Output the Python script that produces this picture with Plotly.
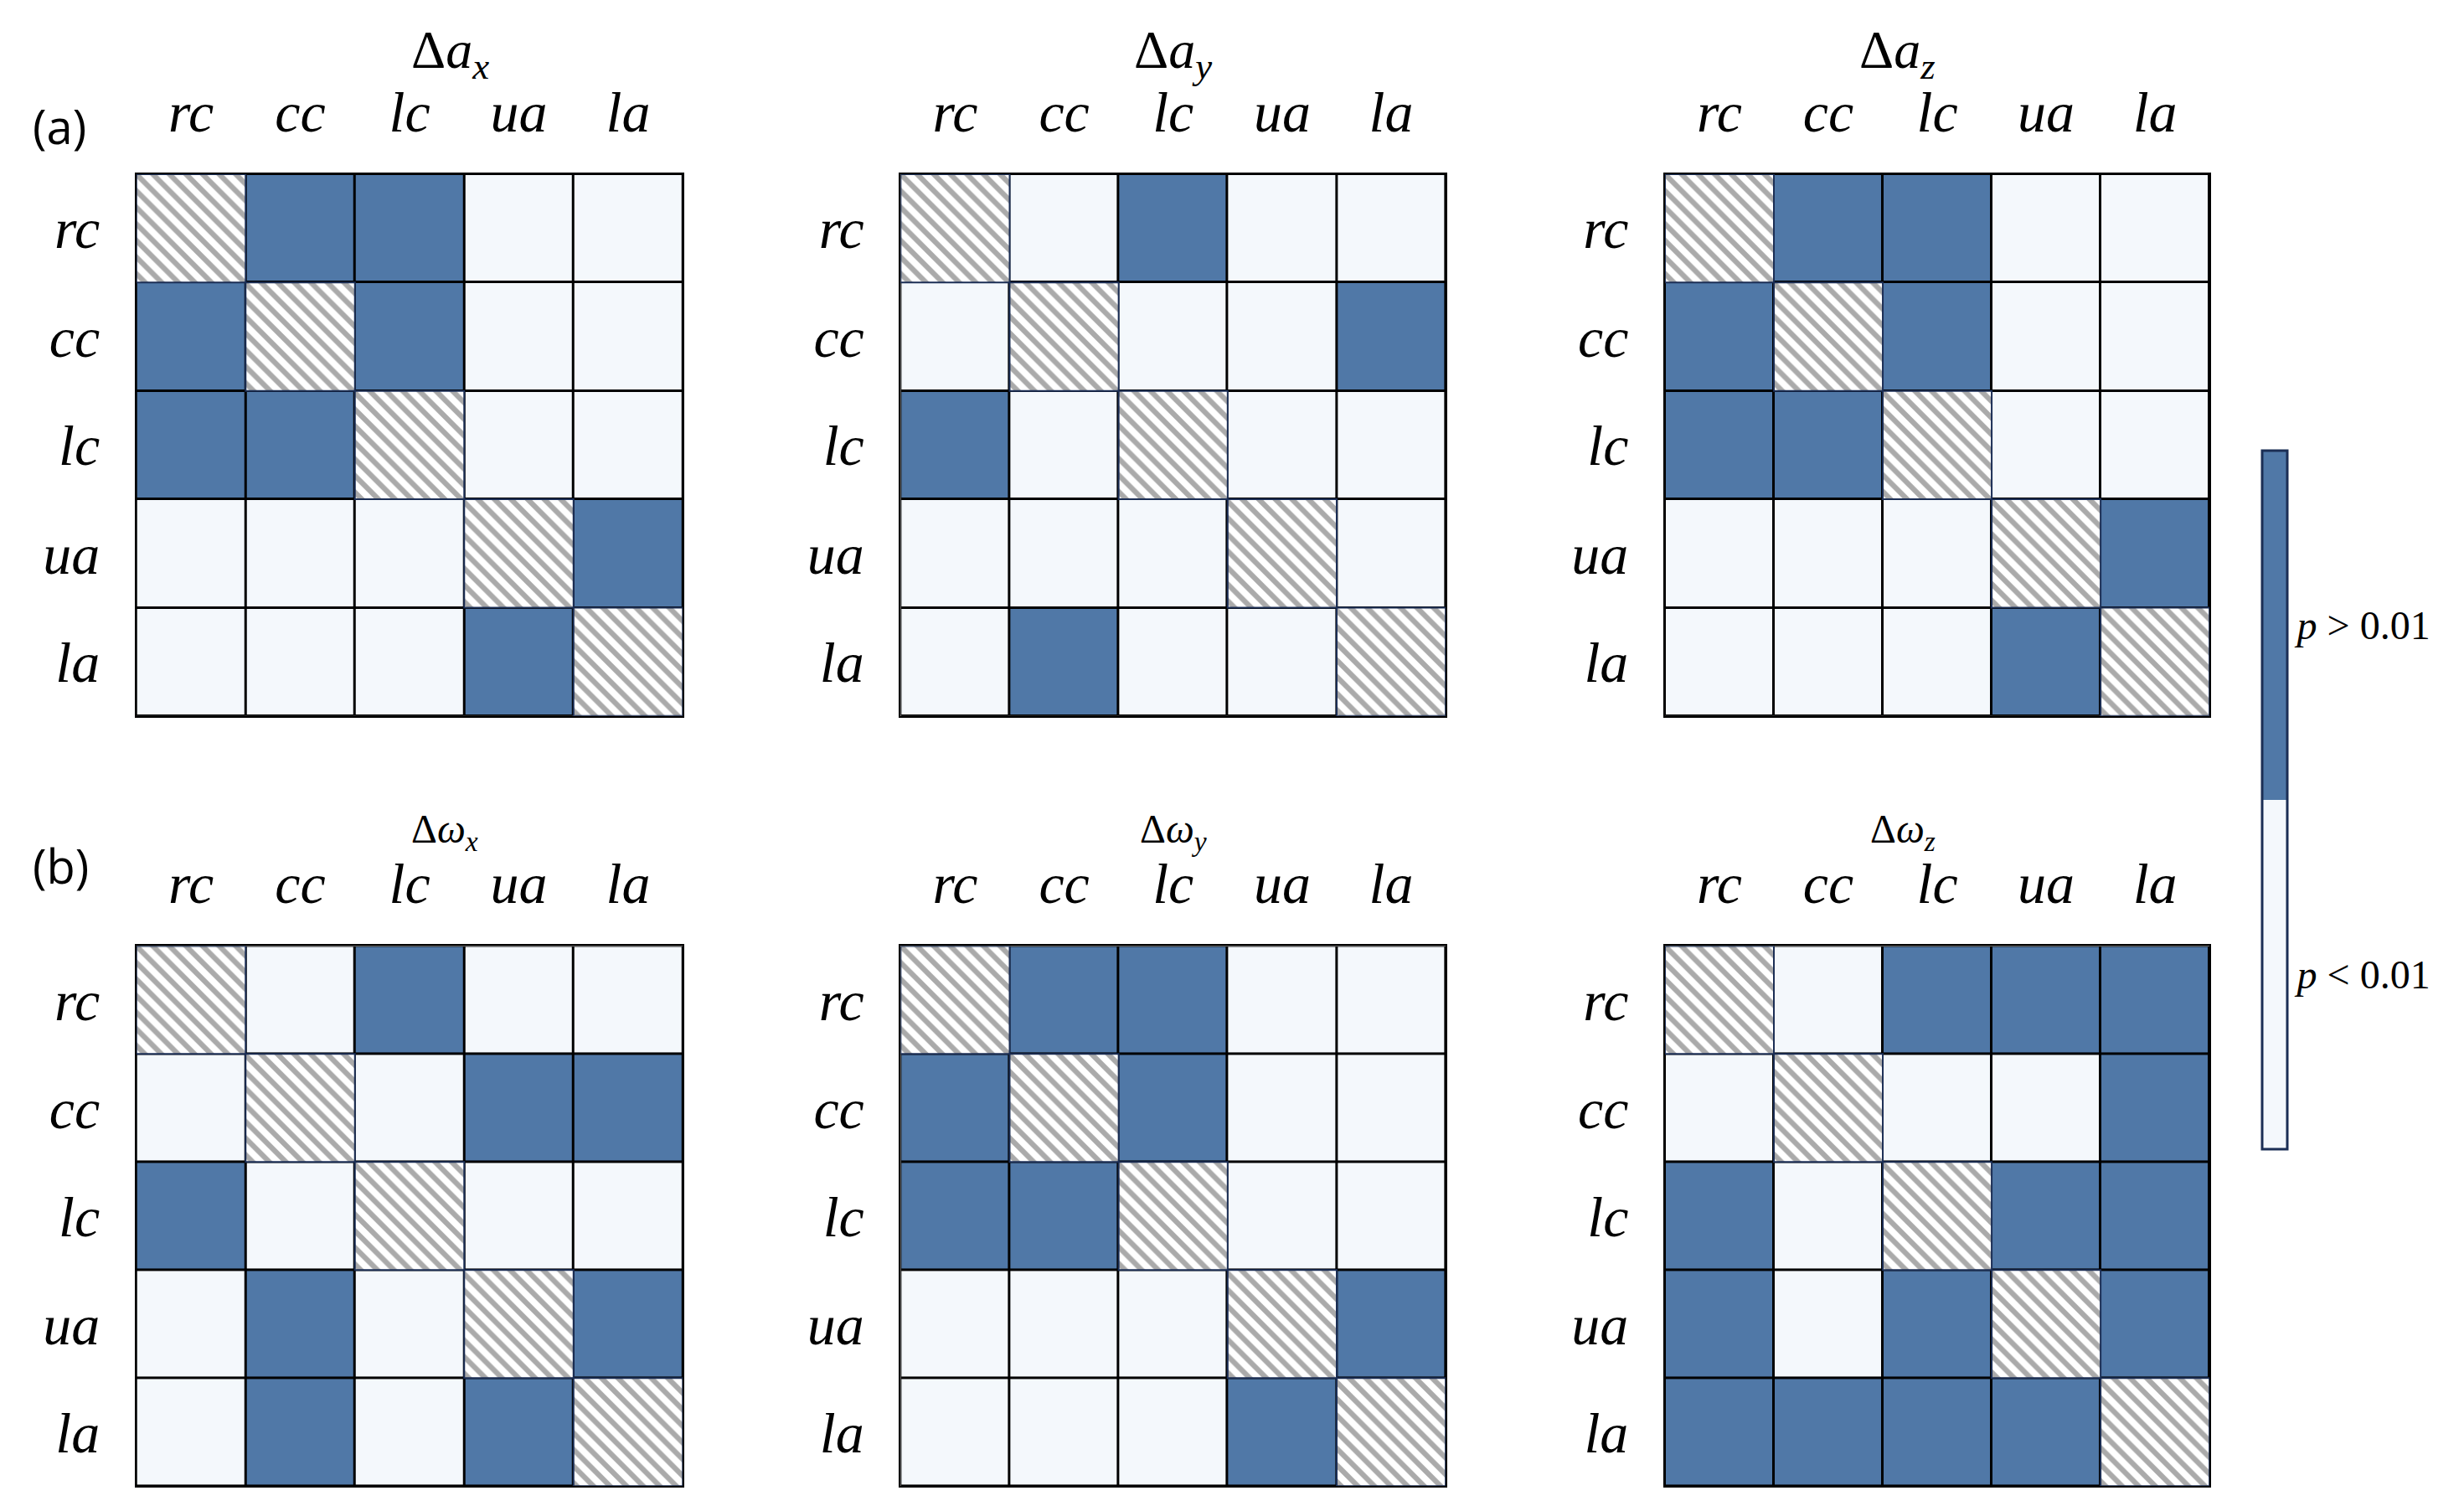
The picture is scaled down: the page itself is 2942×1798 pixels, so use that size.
import plotly.graph_objects as go

labels = ["rc", "cc", "lc", "ua", "la"]
titles = ["Δ<i>a</i><sub><i>x</i></sub>", "Δ<i>a</i><sub><i>y</i></sub>", "Δ<i>a</i><sub><i>z</i></sub>",
          "Δ<i>ω</i><sub><i>x</i></sub>", "Δ<i>ω</i><sub><i>y</i></sub>", "Δ<i>ω</i><sub><i>z</i></sub>"]
# 1 = p > 0.01, 0 = p < 0.01, None = diagonal (hatched)
dax = [[None,1,1,0,0],[1,None,1,0,0],[1,1,None,0,0],[0,0,0,None,1],[0,0,0,1,None]]
day = [[None,0,1,0,0],[0,None,0,0,1],[1,0,None,0,0],[0,0,0,None,0],[0,1,0,0,None]]
daz = [[None,1,1,0,0],[1,None,1,0,0],[1,1,None,0,0],[0,0,0,None,1],[0,0,0,1,None]]
dwx = [[None,0,1,0,0],[0,None,0,1,1],[1,0,None,0,0],[0,1,0,None,1],[0,1,0,1,None]]
dwy = [[None,1,1,0,0],[1,None,1,0,0],[1,1,None,0,0],[0,0,0,None,1],[0,0,0,1,None]]
dwz = [[None,0,1,1,1],[0,None,0,0,1],[1,0,None,1,1],[1,0,1,None,1],[1,1,1,1,None]]
mats = [dax, day, daz, dwx, dwy, dwz]
cb_text = ["<i>p</i> < 0.01", "<i>p</i> > 0.01"]

DARK = "#5078A7"
LIGHT = "#F4F8FC"
xdom = [[0.0526, 0.2744], [0.3628, 0.584], [0.673, 0.894]]
ydom = [[0.529, 0.8888], [0.0177, 0.3763]]
title_y = [0.969, 0.452]
SERIF = "Liberation Serif"

fig = go.Figure()
idx = list(range(len(labels)))
for k, m in enumerate(mats):
    r, c = divmod(k, 3)
    ax = "" if k == 0 else str(k + 1)
    fig.add_trace(go.Heatmap(
        z=m, x=idx, y=idx, zmin=0, zmax=1, xgap=3, ygap=3,
        colorscale=[[0, LIGHT], [0.5, LIGHT], [0.5, DARK], [1, DARK]],
        showscale=(k == 0), hoverinfo="skip",
        colorbar=dict(x=0.912, xanchor="left", y=0.4735, yanchor="middle", len=0.475,
                      thickness=30, outlinecolor="#1B2E55", outlinewidth=3,
                      tickvals=[0.25, 0.75], ticktext=cb_text, ticks="",
                      tickfont=dict(family=SERIF, size=48, color="black")),
        xaxis="x" + ax, yaxis="y" + ax))
    fig.add_trace(go.Bar(
        x=idx, y=[1] * len(idx), base=[i - 0.5 for i in idx], width=1,
        marker=dict(color="white", line=dict(color="#1B2E55", width=2),
                    pattern=dict(shape="\\", fgcolor="#555555", bgcolor="white", size=14, solidity=0.45)),
        showlegend=False, hoverinfo="skip", xaxis="x" + ax, yaxis="y" + ax))
    axcommon = dict(tickvals=idx, ticktext=["<i>%s</i>" % l for l in labels],
                    tickfont=dict(family=SERIF, size=68, color="black"),
                    showgrid=False, zeroline=False, showline=True, linecolor="black",
                    linewidth=2, mirror=True, ticks="", fixedrange=True)
    fig.update_layout(**{
        "xaxis" + ax: dict(axcommon, domain=xdom[c], side="top", range=[-0.5, 4.5],
                           anchor="y" + ax, ticklabelstandoff=22),
        "yaxis" + ax: dict(axcommon, domain=ydom[r], range=[4.5, -0.5],
                           anchor="x" + ax, ticklabelstandoff=28),
    })
    fig.add_annotation(text=titles[k], x=sum(xdom[c]) / 2, xref="paper",
                       y=title_y[r], yref="paper", yanchor="middle", showarrow=False,
                       font=dict(family=SERIF, size=64 if r == 0 else 48, color="black"))

fig.add_annotation(text="(a)", x=0.01, y=0.943, xref="paper", yref="paper", showarrow=False,
                   xanchor="left", font=dict(family="Open Sans", size=56, color="black"))
fig.add_annotation(text="(b)", x=0.01, y=0.43, xref="paper", yref="paper", showarrow=False,
                   xanchor="left", font=dict(family="Open Sans", size=56, color="black"))

fig.update_layout(width=2942, height=1798, margin=dict(l=0, r=0, t=0, b=0),
                  paper_bgcolor="white", plot_bgcolor="black", barmode="overlay",
                  showlegend=False)
fig.write_html("out.html")
